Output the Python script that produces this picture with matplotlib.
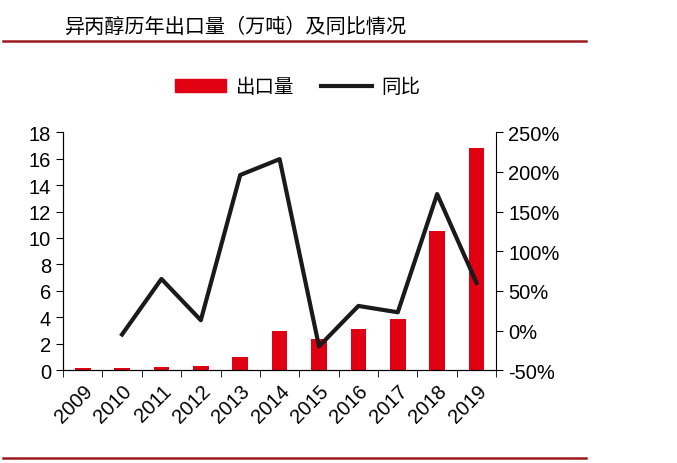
import matplotlib.pyplot as plt
from matplotlib.lines import Line2D
from matplotlib.ticker import FuncFormatter

plt.rcParams['font.family'] = ['Liberation Sans', 'Noto Sans CJK SC', 'DejaVu Sans']

years = ['2009', '2010', '2011', '2012', '2013', '2014', '2015', '2016', '2017', '2018', '2019']
exports = [0.15, 0.15, 0.25, 0.3, 1.0, 3.0, 2.35, 3.1, 3.85, 10.5, 16.8]
# 同比 (%), 2009 无数据
yoy_years = years[1:]
yoy = [-5, 65, 13, 196, 216, -20, 31, 23, 172, 60]

fig = plt.figure(figsize=(6.77, 4.64), dpi=100)
ax = fig.add_axes([0.093, 0.2, 0.64, 0.513])
ax2 = ax.twinx()

x = list(range(len(years)))
ax.bar(x, exports, width=0.4, color='#E00012', zorder=2)
ax2.plot([years.index(y) for y in yoy_years], yoy, color='#1a1a1a', lw=3, zorder=3)

ax.set_xlim(-0.5, len(years) - 0.5)
ax.set_ylim(0, 18)
ax.set_yticks(range(0, 19, 2))
ax2.set_ylim(-50, 250)
ax2.set_yticks(range(-50, 251, 50))
ax2.yaxis.set_major_formatter(FuncFormatter(lambda v, p: f'{v:.0f}%'))

ax.set_xticks(x)
ax.set_xticklabels(years, rotation=45, ha='right', rotation_mode='anchor')
ax.set_xticks([i - 0.5 for i in range(len(years) + 1)], minor=True)
ax.tick_params(axis='x', which='major', length=0, labelsize=14.5, pad=8)
ax.tick_params(axis='x', which='minor', length=5, direction='out')
ax.tick_params(axis='y', labelsize=14.5, length=5, direction='out')
ax2.tick_params(axis='y', labelsize=14.5, length=5, direction='out')

for a in (ax, ax2):
    a.spines['top'].set_visible(False)
ax.spines['right'].set_visible(False)

handles = [plt.Rectangle((0, 0), 1, 1, color='#E00012'),
           Line2D([0], [0], color='#1a1a1a', lw=3)]
fig.legend(handles, ['出口量', '同比'], loc='center', bbox_to_anchor=(0.44, 0.81),
           ncol=2, frameon=False, fontsize=14, handlelength=2.6, columnspacing=1.4,
           handletextpad=0.5)

fig.text(0.096, 0.94, '异丙醇历年出口量（万吨）及同比情况', fontsize=14.5,
         family=['Noto Sans CJK SC'], va='center')
fig.add_artist(Line2D([0.005, 0.865], [0.909, 0.909], color='#9B1B1F', lw=1.8))
fig.add_artist(Line2D([0.005, 0.865], [0.01, 0.01], color='#9B1B1F', lw=1.8))

fig.savefig('out.png', dpi=100)
